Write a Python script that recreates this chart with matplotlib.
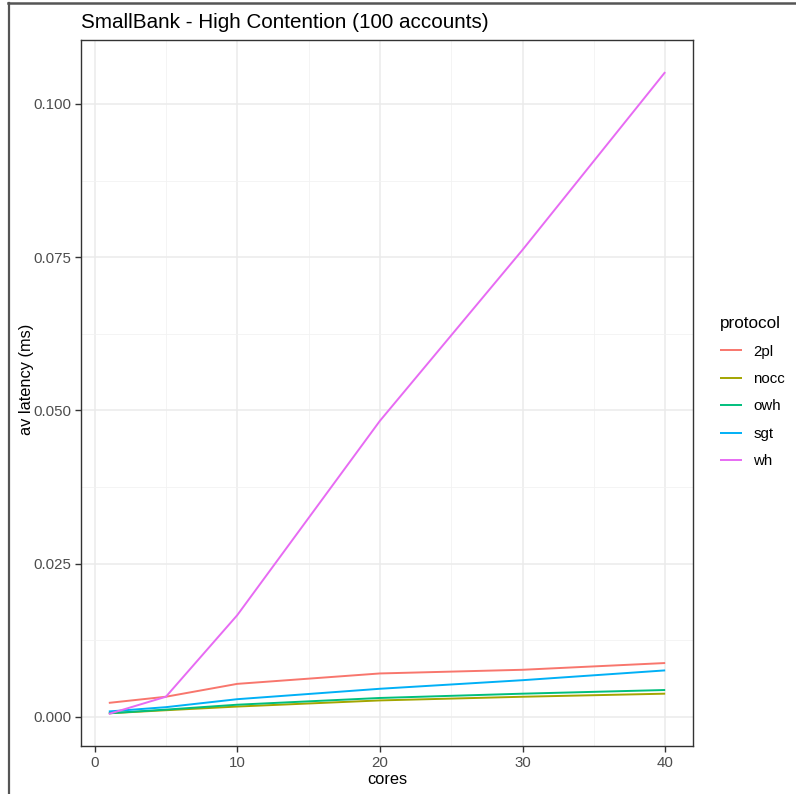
import matplotlib
matplotlib.use("Agg")
import matplotlib.pyplot as plt
from matplotlib.lines import Line2D
from matplotlib.ticker import MultipleLocator

plt.rcParams['font.family'] = ['Liberation Sans', 'DejaVu Sans']

cores = [1, 5, 10, 20, 30, 40]
protocols = ["2pl", "nocc", "owh", "sgt", "wh"]
lat_2pl = [0.0023, 0.0033, 0.0054, 0.0071, 0.0077, 0.0088]
lat_nocc = [0.0006, 0.0011, 0.0017, 0.0027, 0.0033, 0.0038]
lat_owh = [0.0006, 0.0012, 0.0020, 0.0031, 0.0038, 0.0044]
lat_sgt = [0.0009, 0.0016, 0.0029, 0.0046, 0.0060, 0.0076]
lat_wh = [0.0005, 0.0033, 0.0166, 0.0483, 0.0762, 0.1052]
series = [lat_2pl, lat_nocc, lat_owh, lat_sgt, lat_wh]
colors = ["#F8766D", "#A3A500", "#00BF7D", "#00B0F6", "#E76BF3"]

W, H = 796, 794
fig = plt.figure(figsize=(W / 100, H / 100), dpi=100)
ax = fig.add_axes([81 / W, (H - 746) / H, (693 - 81) / W, (746 - 40) / H])

for name, vals, c in zip(protocols, series, colors):
    ax.plot(cores, vals, color=c, lw=1.4, label=name, solid_capstyle='butt')

allv = [v for s in series for v in s]
ymin, ymax = min(allv), max(allv)
yr = ymax - ymin
ax.set_ylim(ymin - 0.05 * yr, ymax + 0.05 * yr)
xr = max(cores) - min(cores)
ax.set_xlim(min(cores) - 0.05 * xr, max(cores) + 0.05 * xr)

ax.xaxis.set_minor_locator(MultipleLocator(5))
ax.yaxis.set_minor_locator(MultipleLocator(0.0125))
ax.set_yticks([0.0, 0.025, 0.05, 0.075, 0.1])
ax.set_yticklabels(["0.000", "0.025", "0.050", "0.075", "0.100"])
ax.set_xticks([0, 10, 20, 30, 40])
ax.set_xticklabels(["0", "10", "20", "30", "40"])

ax.grid(which='major', color='#EBEBEB', lw=1.1)
ax.grid(which='minor', color='#F2F2F2', lw=0.6)
ax.set_axisbelow(True)
ax.tick_params(which='major', length=4, width=1.0, color='#333333',
               labelcolor='#4D4D4D', labelsize=10.8, pad=3)
ax.tick_params(which='minor', length=0)
for s in ax.spines.values():
    s.set_color('#333333')
    s.set_linewidth(1.0)

ax.set_xlabel("cores", fontsize=11.8, color='black', labelpad=2)
ax.set_ylabel("av latency (ms)", fontsize=11.8, color='black')
ax.yaxis.set_label_coords(-0.077, 0.52)
ax.set_title("SmallBank - High Contention (100 accounts)", fontsize=14.9,
             loc='left', x=0.0, pad=9, color='black')

leg = ax.legend(loc='upper left', bbox_to_anchor=(1.035, 0.617), frameon=False,
                title="protocol", fontsize=10.8, title_fontsize=12.3,
                handlelength=1.47, handletextpad=0.73, labelspacing=0.89,
                alignment='left', borderaxespad=0)
for t in leg.get_texts():
    t.set_color('black')

# outer frame
fig.add_artist(Line2D([8 / W, 1.0], [1 - 2.5 / H, 1 - 2.5 / H], color='#555555', lw=1.8,
                      transform=fig.transFigure))
fig.add_artist(Line2D([8.5 / W, 8.5 / W], [0, 1 - 2.5 / H], color='#555555', lw=1.6,
                      transform=fig.transFigure))

fig.savefig("out.png", dpi=100)
